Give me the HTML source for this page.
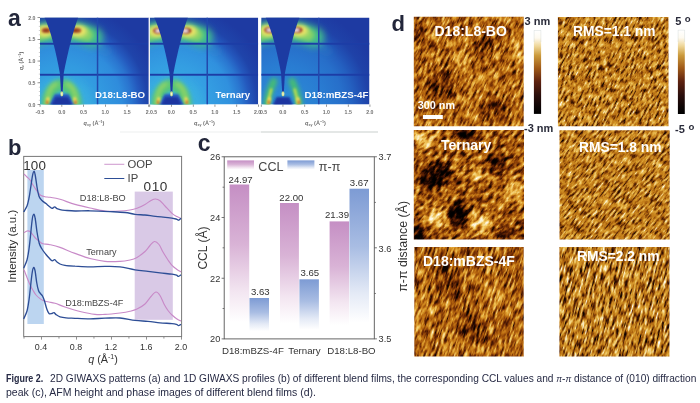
<!DOCTYPE html>
<html><head><meta charset="utf-8"><title>Figure 2</title>
<style>
html,body{margin:0;padding:0;background:#fff;}
body{width:700px;height:403px;overflow:hidden;font-family:"Liberation Sans",sans-serif;}
svg{display:block;position:absolute;left:0;top:0;}
svg text{font-family:"Liberation Sans",sans-serif;}
</style></head><body>
<svg width="700" height="403" viewBox="0 0 700 403">
<defs>


<filter id="b1" x="-100%" y="-100%" width="300%" height="300%"><feGaussianBlur stdDeviation="1"/></filter>
<filter id="b2" x="-100%" y="-100%" width="300%" height="300%"><feGaussianBlur stdDeviation="2"/></filter>
<filter id="b3" x="-100%" y="-100%" width="300%" height="300%"><feGaussianBlur stdDeviation="3.5"/></filter>
<filter id="b05" x="-10%" y="-10%" width="120%" height="120%"><feGaussianBlur stdDeviation="0.45"/></filter>
<radialGradient id="gbase0" gradientUnits="userSpaceOnUse" cx="21.75" cy="87" r="100">
 <stop offset="0" stop-color="#3ab0e0"/>
 <stop offset="0.40" stop-color="#329ae0"/>
 <stop offset="0.60" stop-color="#2f8cdc"/>
 <stop offset="0.70" stop-color="#2a74cf"/>
 <stop offset="0.78" stop-color="#2458bd"/>
 <stop offset="0.86" stop-color="#1f44aa"/>
 <stop offset="1" stop-color="#1e3aa2"/>
</radialGradient>
<radialGradient id="gbase1" gradientUnits="userSpaceOnUse" cx="21.75" cy="87" r="100">
 <stop offset="0" stop-color="#3cb4e2"/>
 <stop offset="0.40" stop-color="#349ee2"/>
 <stop offset="0.60" stop-color="#3090de"/>
 <stop offset="0.70" stop-color="#2a76d0"/>
 <stop offset="0.78" stop-color="#2458bd"/>
 <stop offset="0.86" stop-color="#1f44aa"/>
 <stop offset="1" stop-color="#1e3aa2"/>
</radialGradient>
<radialGradient id="gbase2" gradientUnits="userSpaceOnUse" cx="21.75" cy="87" r="100">
 <stop offset="0" stop-color="#2e90d6"/>
 <stop offset="0.40" stop-color="#297cd2"/>
 <stop offset="0.60" stop-color="#276fca"/>
 <stop offset="0.70" stop-color="#2460c0"/>
 <stop offset="0.78" stop-color="#2150b4"/>
 <stop offset="0.86" stop-color="#1f42a8"/>
 <stop offset="1" stop-color="#1e3aa2"/>
</radialGradient>

<linearGradient id="purp" x1="0" y1="0" x2="0" y2="1">
 <stop offset="0" stop-color="#c58fc4"/>
 <stop offset="0.40" stop-color="#d9b3d6"/>
 <stop offset="0.72" stop-color="#f3e6f1"/>
 <stop offset="0.92" stop-color="#ffffff"/>
</linearGradient>
<linearGradient id="blu" x1="0" y1="0" x2="0" y2="1">
 <stop offset="0" stop-color="#7d9bd4"/>
 <stop offset="0.40" stop-color="#a9bde3"/>
 <stop offset="0.72" stop-color="#e4eaf6"/>
 <stop offset="0.92" stop-color="#ffffff"/>
</linearGradient>
<linearGradient id="cbar" x1="0" y1="0" x2="0" y2="1">
 <stop offset="0" stop-color="#ffffff"/>
 <stop offset="0.09" stop-color="#fefaf0"/>
 <stop offset="0.19" stop-color="#eed596"/>
 <stop offset="0.30" stop-color="#cb9a3c"/>
 <stop offset="0.45" stop-color="#a05a18"/>
 <stop offset="0.61" stop-color="#5e2210"/>
 <stop offset="0.78" stop-color="#2a0e0c"/>
 <stop offset="0.92" stop-color="#0c0404"/>
 <stop offset="1" stop-color="#000000"/>
</linearGradient>

<filter id="afmH1" x="0" y="0" width="100%" height="100%" color-interpolation-filters="sRGB">
 <feTurbulence type="fractalNoise" baseFrequency="0.11 0.40" numOctaves="3" seed="3"/>
 <feColorMatrix type="matrix" values="1 0 0 0 0  1 0 0 0 0  1 0 0 0 0  0 0 0 0 1" result="hi"/>
 <feComposite in="hi" in2="SourceGraphic" operator="arithmetic" k1="0" k2="1.0" k3="0.8" k4="-0.420" result="mix"/>
 <feComponentTransfer in="mix">
  <feFuncR type="table" tableValues="0.000 0.039 0.157 0.361 0.557 0.729 0.847 0.933 0.969 0.988 1.000"/>
  <feFuncG type="table" tableValues="0.000 0.008 0.039 0.125 0.259 0.416 0.580 0.745 0.855 0.941 1.000"/>
  <feFuncB type="table" tableValues="0.000 0.000 0.008 0.016 0.031 0.063 0.149 0.314 0.529 0.784 1.000"/>
  <feFuncA type="linear" slope="0" intercept="1"/>
 </feComponentTransfer>
 <feGaussianBlur stdDeviation="0.45"/>
</filter>
<filter id="afmH2" x="0" y="0" width="100%" height="100%" color-interpolation-filters="sRGB">
 <feTurbulence type="fractalNoise" baseFrequency="0.13 0.27" numOctaves="3" seed="7"/>
 <feColorMatrix type="matrix" values="1 0 0 0 0  1 0 0 0 0  1 0 0 0 0  0 0 0 0 1" result="hi"/>
 <feComposite in="hi" in2="SourceGraphic" operator="arithmetic" k1="0" k2="1.1" k3="1.4" k4="-0.800" result="mix"/>
 <feComponentTransfer in="mix">
  <feFuncR type="table" tableValues="0.000 0.039 0.157 0.361 0.557 0.729 0.847 0.933 0.969 0.988 1.000"/>
  <feFuncG type="table" tableValues="0.000 0.008 0.039 0.125 0.259 0.416 0.580 0.745 0.855 0.941 1.000"/>
  <feFuncB type="table" tableValues="0.000 0.000 0.008 0.016 0.031 0.063 0.149 0.314 0.529 0.784 1.000"/>
  <feFuncA type="linear" slope="0" intercept="1"/>
 </feComponentTransfer>
 <feGaussianBlur stdDeviation="0.45"/>
</filter>
<filter id="afmH3" x="0" y="0" width="100%" height="100%" color-interpolation-filters="sRGB">
 <feTurbulence type="fractalNoise" baseFrequency="0.09 0.42" numOctaves="3" seed="12"/>
 <feColorMatrix type="matrix" values="1 0 0 0 0  1 0 0 0 0  1 0 0 0 0  0 0 0 0 1" result="hi"/>
 <feComposite in="hi" in2="SourceGraphic" operator="arithmetic" k1="0" k2="1.05" k3="0.8" k4="-0.450" result="mix"/>
 <feComponentTransfer in="mix">
  <feFuncR type="table" tableValues="0.000 0.039 0.157 0.361 0.557 0.729 0.847 0.933 0.969 0.988 1.000"/>
  <feFuncG type="table" tableValues="0.000 0.008 0.039 0.125 0.259 0.416 0.580 0.745 0.855 0.941 1.000"/>
  <feFuncB type="table" tableValues="0.000 0.000 0.008 0.016 0.031 0.063 0.149 0.314 0.529 0.784 1.000"/>
  <feFuncA type="linear" slope="0" intercept="1"/>
 </feComponentTransfer>
 <feGaussianBlur stdDeviation="0.45"/>
</filter>
<filter id="afmP1" x="0" y="0" width="100%" height="100%" color-interpolation-filters="sRGB">
 <feTurbulence type="fractalNoise" baseFrequency="0.14 0.50" numOctaves="3" seed="4"/>
 <feColorMatrix type="matrix" values="1 0 0 0 0  1 0 0 0 0  1 0 0 0 0  0 0 0 0 1" result="hi"/>
 <feComposite in="hi" in2="SourceGraphic" operator="arithmetic" k1="0" k2="1.35" k3="0.5" k4="-0.425" result="mix"/>
 <feComponentTransfer in="mix">
  <feFuncR type="table" tableValues="0.000 0.078 0.235 0.424 0.635 0.769 0.835 0.902 0.953 0.988 1.000"/>
  <feFuncG type="table" tableValues="0.000 0.020 0.078 0.188 0.353 0.494 0.592 0.710 0.824 0.941 1.000"/>
  <feFuncB type="table" tableValues="0.000 0.000 0.008 0.024 0.047 0.102 0.165 0.282 0.490 0.784 1.000"/>
  <feFuncA type="linear" slope="0" intercept="1"/>
 </feComponentTransfer>
 <feGaussianBlur stdDeviation="0.45"/>
</filter>
<filter id="afmP2" x="0" y="0" width="100%" height="100%" color-interpolation-filters="sRGB">
 <feTurbulence type="fractalNoise" baseFrequency="0.13 0.50" numOctaves="3" seed="15"/>
 <feColorMatrix type="matrix" values="1 0 0 0 0  1 0 0 0 0  1 0 0 0 0  0 0 0 0 1" result="hi"/>
 <feComposite in="hi" in2="SourceGraphic" operator="arithmetic" k1="0" k2="1.35" k3="0.5" k4="-0.425" result="mix"/>
 <feComponentTransfer in="mix">
  <feFuncR type="table" tableValues="0.000 0.078 0.235 0.424 0.635 0.769 0.835 0.902 0.953 0.988 1.000"/>
  <feFuncG type="table" tableValues="0.000 0.020 0.078 0.188 0.353 0.494 0.592 0.710 0.824 0.941 1.000"/>
  <feFuncB type="table" tableValues="0.000 0.000 0.008 0.024 0.047 0.102 0.165 0.282 0.490 0.784 1.000"/>
  <feFuncA type="linear" slope="0" intercept="1"/>
 </feComponentTransfer>
 <feGaussianBlur stdDeviation="0.45"/>
</filter>
<filter id="afmP3" x="0" y="0" width="100%" height="100%" color-interpolation-filters="sRGB">
 <feTurbulence type="fractalNoise" baseFrequency="0.10 0.46" numOctaves="3" seed="25"/>
 <feColorMatrix type="matrix" values="1 0 0 0 0  1 0 0 0 0  1 0 0 0 0  0 0 0 0 1" result="hi"/>
 <feComposite in="hi" in2="SourceGraphic" operator="arithmetic" k1="0" k2="1.5" k3="0.5" k4="-0.500" result="mix"/>
 <feComponentTransfer in="mix">
  <feFuncR type="table" tableValues="0.000 0.078 0.235 0.424 0.635 0.769 0.835 0.902 0.953 0.988 1.000"/>
  <feFuncG type="table" tableValues="0.000 0.020 0.078 0.188 0.353 0.494 0.592 0.710 0.824 0.941 1.000"/>
  <feFuncB type="table" tableValues="0.000 0.000 0.008 0.024 0.047 0.102 0.165 0.282 0.490 0.784 1.000"/>
  <feFuncA type="linear" slope="0" intercept="1"/>
 </feComponentTransfer>
 <feGaussianBlur stdDeviation="0.45"/>
</filter>
</defs>
<rect x="120" y="131.5" width="141" height="1" fill="#eef0ef"/>
<rect x="261" y="131.5" width="117" height="1" fill="#c9d0cd"/>
<g transform="translate(40,17.5)">
<clipPath id="cg0"><rect x="0" y="0" width="109.3" height="87"/></clipPath>
<g clip-path="url(#cg0)">
<rect x="0" y="0" width="109.3" height="87" fill="url(#gbase0)"/>
<g filter="url(#b3)" fill="none" stroke-linecap="round">
<path d="M-8.3,19.4 A74,74 0 0 1 53.0,19.9" stroke="#44c484" stroke-width="20" opacity="0.97"/>
<path d="M52.4,24.1 A70,70 0 0 1 66.7,33.4" stroke="#30a0c8" stroke-width="8" opacity="0.25"/>
</g>
<g filter="url(#b2)" fill="none" stroke-linecap="round">
<path d="M-6.0,18.4 A74,74 0 0 1 47.1,17.5" stroke="#8ed464" stroke-width="12" opacity="0.95"/>
</g>
<g filter="url(#b2)">
<ellipse cx="4.7" cy="13.4" rx="8" ry="6" fill="#ece468"/>
<ellipse cx="38.1" cy="13.4" rx="9" ry="6" fill="#ece468"/>
</g>
<g filter="url(#b1)">
<ellipse cx="6.2" cy="12.9" rx="4.6" ry="2.7" fill="#a8522a"/>
<ellipse cx="36.300000000000004" cy="12.9" rx="5" ry="2.7" fill="#a8522a"/>
<ellipse cx="6.2" cy="12.9" rx="2.2" ry="1.1" fill="#86301c"/>
<ellipse cx="35.1" cy="12.9" rx="2.6" ry="1.1" fill="#86301c"/>
</g>
<g filter="url(#b3)" fill="none">
<ellipse cx="21.75" cy="89" rx="32" ry="30" fill="#3cb4e0" stroke="none" opacity="0.55"/>
</g>
<g filter="url(#b2)" fill="none">
<ellipse cx="21.75" cy="89" rx="14.5" ry="21.5" stroke="#56c674" stroke-width="11.5" opacity="0.97"/>
</g>
<g filter="url(#b2)" fill="none" stroke-linecap="round">
<path d="M7.2,86 C7.6,72 12,68 16.5,66.5" stroke="#a6d860" stroke-width="3.6" opacity="0.9"/>
<path d="M36.3,86 C35.9,72 31.5,68 27,66.5" stroke="#a6d860" stroke-width="3.6" opacity="0.9"/>
</g>
<g filter="url(#b1)">
<path d="M9.5,89 L15.5,77.5 L28,77.5 L34,89 Z" fill="#2a5cc0" stroke="#2a5cc0" stroke-width="2" stroke-linejoin="round"/>
</g>
<g filter="url(#b1)">
<ellipse cx="7.5" cy="83.3" rx="1.7" ry="3.8" fill="#f2dc58" transform="rotate(14 7.5 83.3)"/>
<ellipse cx="35.2" cy="83.3" rx="1.7" ry="3.8" fill="#f2dc58" transform="rotate(-14 35.2 83.3)"/>
<ellipse cx="7.2" cy="84.8" rx="1" ry="2.3" fill="#cc4a24"/>
<ellipse cx="35.5" cy="84.8" rx="1" ry="2.3" fill="#cc4a24"/>
<path d="M12.5,88 L16,80.5 L27.5,80.5 L31,88 Z" fill="#1f36a0" stroke="#1f36a0" stroke-width="2" stroke-linejoin="round"/>
</g>
<g filter="url(#b05)">
<rect x="0" y="25.3" width="109.3" height="1.9" fill="#1f3ea6"/>
<rect x="0" y="56.3" width="109.3" height="1.9" fill="#1f3ea6"/>
<rect x="56.8" y="0" width="1.5" height="87" fill="#2148ad"/>
<path d="M4.5,0 L38.2,0 C33,14 28,34 23.7,56 L22.7,74 L22.3,79 L21.3,79 L20.9,74 L19.9,56 C16,34 11,14 4.5,0 Z" fill="#1f3aa2"/>
<ellipse cx="21.8" cy="76.3" rx="1.5" ry="2.6" fill="#cfe08c"/>
<ellipse cx="21.8" cy="76.6" rx="0.6" ry="1.4" fill="#f4f4d8"/>
</g>
</g>
<text x="55.1" y="80.9" font-size="9.7" font-weight="bold" fill="#fff" filter="url(#b05)" opacity="0.97">D18:L8-BO</text>
</g>
<g transform="translate(149.7,17.5)">
<clipPath id="cg1"><rect x="0" y="0" width="108.5" height="87"/></clipPath>
<g clip-path="url(#cg1)">
<rect x="0" y="0" width="108.5" height="87" fill="url(#gbase1)"/>
<g filter="url(#b3)" fill="none" stroke-linecap="round">
<path d="M-8.3,19.4 A74,74 0 0 1 53.0,19.9" stroke="#44c484" stroke-width="20" opacity="0.97"/>
<path d="M52.4,24.1 A70,70 0 0 1 66.7,33.4" stroke="#30a0c8" stroke-width="8" opacity="0.25"/>
</g>
<g filter="url(#b2)" fill="none" stroke-linecap="round">
<path d="M-6.0,18.4 A74,74 0 0 1 47.1,17.5" stroke="#8ed464" stroke-width="12" opacity="0.95"/>
</g>
<g filter="url(#b2)">
<ellipse cx="7.1" cy="13.8" rx="8" ry="6" fill="#ece468"/>
<ellipse cx="38.3" cy="13.8" rx="9" ry="6" fill="#ece468"/>
</g>
<g filter="url(#b1)">
<ellipse cx="8.6" cy="13.3" rx="5.2" ry="3.1" fill="#a0442a"/>
<ellipse cx="36.3" cy="13.3" rx="5.6" ry="3.1" fill="#a0442a"/>
<ellipse cx="8.6" cy="13.3" rx="2.8" ry="1.6" fill="#f4e6ee"/>
<ellipse cx="35.3" cy="13.3" rx="3.2" ry="1.6" fill="#f4e6ee"/>
</g>
<g filter="url(#b3)" fill="none">
<ellipse cx="21.75" cy="89" rx="32" ry="30" fill="#3cb4e0" stroke="none" opacity="0.55"/>
</g>
<g filter="url(#b2)" fill="none">
<ellipse cx="21.75" cy="89" rx="14.5" ry="21.5" stroke="#56c674" stroke-width="11.5" opacity="0.97"/>
</g>
<g filter="url(#b2)" fill="none" stroke-linecap="round">
<path d="M7.2,86 C7.6,72 12,68 16.5,66.5" stroke="#a6d860" stroke-width="3.6" opacity="0.9"/>
<path d="M36.3,86 C35.9,72 31.5,68 27,66.5" stroke="#a6d860" stroke-width="3.6" opacity="0.9"/>
</g>
<g filter="url(#b1)">
<path d="M9.5,89 L15.5,77.5 L28,77.5 L34,89 Z" fill="#2a5cc0" stroke="#2a5cc0" stroke-width="2" stroke-linejoin="round"/>
</g>
<g filter="url(#b1)">
<ellipse cx="8.6" cy="83.3" rx="1.7" ry="3.8" fill="#f2dc58" transform="rotate(14 8.6 83.3)"/>
<ellipse cx="36.8" cy="83.3" rx="1.7" ry="3.8" fill="#f2dc58" transform="rotate(-14 36.8 83.3)"/>
<ellipse cx="8.299999999999999" cy="84.8" rx="1" ry="2.3" fill="#cc4a24"/>
<ellipse cx="37.099999999999994" cy="84.8" rx="1" ry="2.3" fill="#cc4a24"/>
<path d="M12.5,88 L16,80.5 L27.5,80.5 L31,88 Z" fill="#1f36a0" stroke="#1f36a0" stroke-width="2" stroke-linejoin="round"/>
</g>
<g filter="url(#b05)">
<rect x="0" y="25.3" width="108.5" height="1.9" fill="#1f3ea6"/>
<rect x="0" y="56.3" width="108.5" height="1.9" fill="#1f3ea6"/>
<rect x="56.8" y="0" width="1.5" height="87" fill="#2148ad"/>
<path d="M4.5,0 L38.2,0 C33,14 28,34 23.7,56 L22.7,74 L22.3,79 L21.3,79 L20.9,74 L19.9,56 C16,34 11,14 4.5,0 Z" fill="#1f3aa2"/>
<ellipse cx="21.8" cy="76.3" rx="1.5" ry="2.6" fill="#cfe08c"/>
<ellipse cx="21.8" cy="76.6" rx="0.6" ry="1.4" fill="#f4f4d8"/>
</g>
</g>
<text x="65.9" y="80.9" font-size="9.6" font-weight="bold" fill="#fff" filter="url(#b05)" opacity="0.97">Ternary</text>
</g>
<g transform="translate(261.2,17.5)">
<clipPath id="cg2"><rect x="0" y="0" width="108.3" height="87"/></clipPath>
<g clip-path="url(#cg2)">
<rect x="0" y="0" width="108.3" height="87" fill="url(#gbase2)"/>
<g filter="url(#b3)" fill="none" stroke-linecap="round">
<path d="M-8.3,19.4 A74,74 0 0 1 53.0,19.9" stroke="#44c484" stroke-width="20" opacity="0.97"/>
<path d="M52.4,24.1 A70,70 0 0 1 66.7,33.4" stroke="#30a0c8" stroke-width="8" opacity="0.25"/>
</g>
<g filter="url(#b2)" fill="none" stroke-linecap="round">
<path d="M-6.0,18.4 A74,74 0 0 1 47.1,17.5" stroke="#8ed464" stroke-width="12" opacity="0.95"/>
</g>
<g filter="url(#b2)">
<ellipse cx="6.699999999999999" cy="13.0" rx="8" ry="6" fill="#ece468"/>
<ellipse cx="37.9" cy="13.0" rx="9" ry="6" fill="#ece468"/>
</g>
<g filter="url(#b1)">
<ellipse cx="8.2" cy="12.5" rx="5.2" ry="3.1" fill="#a0442a"/>
<ellipse cx="35.9" cy="12.5" rx="5.6" ry="3.1" fill="#a0442a"/>
<ellipse cx="8.2" cy="12.5" rx="2.8" ry="1.6" fill="#f4e6ee"/>
<ellipse cx="34.9" cy="12.5" rx="3.2" ry="1.6" fill="#f4e6ee"/>
</g>
<g filter="url(#b2)" fill="none" stroke-linecap="round">
<path d="M12.5,64 Q7,76 5.5,87" stroke="#46c070" stroke-width="7" opacity="0.95"/>
<path d="M31,64 Q36.5,76 38,87" stroke="#46c070" stroke-width="7" opacity="0.95"/>
</g>
<g filter="url(#b1)" fill="none" stroke-linecap="round">
<path d="M10,72 Q7.5,80 7,87" stroke="#c0dc50" stroke-width="2.6" opacity="0.95"/>
<path d="M33.5,72 Q36,80 36.5,87" stroke="#c0dc50" stroke-width="2.6" opacity="0.95"/>
</g>
<g filter="url(#b1)">
<ellipse cx="7.8" cy="83.3" rx="1.7" ry="3.8" fill="#f2dc58" transform="rotate(14 7.8 83.3)"/>
<ellipse cx="37.3" cy="83.3" rx="1.7" ry="3.8" fill="#f2dc58" transform="rotate(-14 37.3 83.3)"/>
<ellipse cx="7.5" cy="84.8" rx="1" ry="2.3" fill="#cc4a24"/>
<ellipse cx="37.599999999999994" cy="84.8" rx="1" ry="2.3" fill="#cc4a24"/>
<path d="M12.5,88 L16,80.5 L27.5,80.5 L31,88 Z" fill="#1f36a0" stroke="#1f36a0" stroke-width="2" stroke-linejoin="round"/>
</g>
<g filter="url(#b05)">
<rect x="0" y="25.3" width="108.3" height="1.9" fill="#1f3ea6"/>
<rect x="0" y="56.3" width="108.3" height="1.9" fill="#1f3ea6"/>
<rect x="56.8" y="0" width="1.5" height="87" fill="#2148ad"/>
<path d="M4.5,0 L38.2,0 C33,14 28,34 23.7,56 L22.7,74 L22.3,79 L21.3,79 L20.9,74 L19.9,56 C16,34 11,14 4.5,0 Z" fill="#1f3aa2"/>
<ellipse cx="21.8" cy="76.3" rx="1.5" ry="2.6" fill="#cfe08c"/>
<ellipse cx="21.8" cy="76.6" rx="0.6" ry="1.4" fill="#f4f4d8"/>
</g>
</g>
<text x="43.3" y="80.9" font-size="9.75" font-weight="bold" fill="#fff" filter="url(#b05)" opacity="0.97">D18:mBZS-4F</text>
</g>
<rect x="148.6" y="17.5" width="1.3" height="90" fill="#f4f4f4"/>
<g fill="#555" font-size="5.2" font-weight="bold" filter="url(#b05)" opacity="0.85">
<text x="35.5" y="19.5" text-anchor="end">2.0</text>
<rect x="37.5" y="17.2" width="2.5" height="0.7"/>
<text x="35.5" y="41.2" text-anchor="end">1.5</text>
<rect x="37.5" y="39.0" width="2.5" height="0.7"/>
<text x="35.5" y="63.0" text-anchor="end">1.0</text>
<rect x="37.5" y="60.7" width="2.5" height="0.7"/>
<text x="35.5" y="84.8" text-anchor="end">0.5</text>
<rect x="37.5" y="82.5" width="2.5" height="0.7"/>
<text x="35.5" y="106.5" text-anchor="end">0.0</text>
<rect x="37.5" y="104.2" width="2.5" height="0.7"/>
<text x="40.0" y="113.5" text-anchor="middle">-0.5</text>
<rect x="39.7" y="104.5" width="0.7" height="2.3"/>
<text x="61.8" y="113.5" text-anchor="middle">0.0</text>
<rect x="61.5" y="104.5" width="0.7" height="2.3"/>
<text x="83.5" y="113.5" text-anchor="middle">0.5</text>
<rect x="83.2" y="104.5" width="0.7" height="2.3"/>
<text x="105.2" y="113.5" text-anchor="middle">1.0</text>
<rect x="105.0" y="104.5" width="0.7" height="2.3"/>
<text x="127.0" y="113.5" text-anchor="middle">1.5</text>
<rect x="126.7" y="104.5" width="0.7" height="2.3"/>
<rect x="148.4" y="104.5" width="0.7" height="2.3"/>
<text x="147.8" y="113.5" text-anchor="middle">2.</text>
<text x="153.5" y="113.5" text-anchor="middle">0.5</text>
<rect x="149.4" y="104.5" width="0.7" height="2.3"/>
<text x="171.4" y="113.5" text-anchor="middle">0.0</text>
<rect x="171.1" y="104.5" width="0.7" height="2.3"/>
<text x="193.2" y="113.5" text-anchor="middle">0.5</text>
<rect x="192.9" y="104.5" width="0.7" height="2.3"/>
<text x="214.9" y="113.5" text-anchor="middle">1.0</text>
<rect x="214.6" y="104.5" width="0.7" height="2.3"/>
<text x="236.7" y="113.5" text-anchor="middle">1.5</text>
<rect x="236.4" y="104.5" width="0.7" height="2.3"/>
<rect x="258.1" y="104.5" width="0.7" height="2.3"/>
<text x="257.5" y="113.5" text-anchor="middle">2.0</text>
<text x="263.5" y="113.5" text-anchor="middle">0.5</text>
<rect x="260.9" y="104.5" width="0.7" height="2.3"/>
<text x="282.9" y="113.5" text-anchor="middle">0.0</text>
<rect x="282.6" y="104.5" width="0.7" height="2.3"/>
<text x="304.7" y="113.5" text-anchor="middle">0.5</text>
<rect x="304.4" y="104.5" width="0.7" height="2.3"/>
<text x="326.4" y="113.5" text-anchor="middle">1.0</text>
<rect x="326.1" y="104.5" width="0.7" height="2.3"/>
<text x="348.2" y="113.5" text-anchor="middle">1.5</text>
<rect x="347.9" y="104.5" width="0.7" height="2.3"/>
<text x="369.9" y="113.5" text-anchor="middle">2.0</text>
<rect x="369.6" y="104.5" width="0.7" height="2.3"/>
<text x="94" y="124.5" text-anchor="middle" font-size="5.6"><tspan font-style="italic">q</tspan><tspan font-size="3.6" dy="1">xy</tspan><tspan dy="-1"> (Å</tspan><tspan font-size="3.6" dy="-2">−1</tspan><tspan dy="2">)</tspan></text>
<text x="204.5" y="124.5" text-anchor="middle" font-size="5.6"><tspan font-style="italic">q</tspan><tspan font-size="3.6" dy="1">xy</tspan><tspan dy="-1"> (Å</tspan><tspan font-size="3.6" dy="-2">−1</tspan><tspan dy="2">)</tspan></text>
<text x="315.5" y="124.5" text-anchor="middle" font-size="5.6"><tspan font-style="italic">q</tspan><tspan font-size="3.6" dy="1">xy</tspan><tspan dy="-1"> (Å</tspan><tspan font-size="3.6" dy="-2">−1</tspan><tspan dy="2">)</tspan></text>
<text transform="translate(22.5,61) rotate(-90)" text-anchor="middle" font-size="5.6"><tspan font-style="italic">q</tspan><tspan font-size="3.6" dy="1">z</tspan><tspan dy="-1"> (Å</tspan><tspan font-size="3.6" dy="-2">−1</tspan><tspan dy="2">)</tspan></text>
</g>
<g fill="#777" opacity="0.7">
<rect x="38.8" y="17.25" width="1.2" height="0.5"/>
<rect x="38.8" y="21.60" width="1.2" height="0.5"/>
<rect x="38.8" y="25.95" width="1.2" height="0.5"/>
<rect x="38.8" y="30.30" width="1.2" height="0.5"/>
<rect x="38.8" y="34.65" width="1.2" height="0.5"/>
<rect x="38.8" y="39.00" width="1.2" height="0.5"/>
<rect x="38.8" y="43.35" width="1.2" height="0.5"/>
<rect x="38.8" y="47.70" width="1.2" height="0.5"/>
<rect x="38.8" y="52.05" width="1.2" height="0.5"/>
<rect x="38.8" y="56.40" width="1.2" height="0.5"/>
<rect x="38.8" y="60.75" width="1.2" height="0.5"/>
<rect x="38.8" y="65.10" width="1.2" height="0.5"/>
<rect x="38.8" y="69.45" width="1.2" height="0.5"/>
<rect x="38.8" y="73.80" width="1.2" height="0.5"/>
<rect x="38.8" y="78.15" width="1.2" height="0.5"/>
<rect x="38.8" y="82.50" width="1.2" height="0.5"/>
<rect x="38.8" y="86.85" width="1.2" height="0.5"/>
<rect x="38.8" y="91.20" width="1.2" height="0.5"/>
<rect x="38.8" y="95.55" width="1.2" height="0.5"/>
<rect x="38.8" y="99.90" width="1.2" height="0.5"/>
<rect x="38.8" y="104.25" width="1.2" height="0.5"/>
</g>
<g font-weight="bold" fill="#24283a" filter="url(#b05)" font-size="23">
<text x="8" y="25.6">a</text>
<text x="7.9" y="155.2" font-size="22">b</text>
<text x="197.8" y="150.6">c</text>
<text x="391.6" y="30.8" font-size="22">d</text>
</g>
<g>
<rect x="27.4" y="170" width="16.4" height="154" fill="#bcd5f0"/>
<rect x="134.7" y="191.6" width="38.1" height="128.2" fill="#d9c9e6"/>
<rect x="23.7" y="156.4" width="157.9" height="180.2" fill="none" stroke="#777" stroke-width="1"/>
<rect x="23.60" y="337" width="0.8" height="1.6" fill="#777"/>
<rect x="41.09" y="337" width="0.8" height="2.6" fill="#777"/>
<rect x="58.58" y="337" width="0.8" height="1.6" fill="#777"/>
<rect x="76.07" y="337" width="0.8" height="2.6" fill="#777"/>
<rect x="93.56" y="337" width="0.8" height="1.6" fill="#777"/>
<rect x="111.05" y="337" width="0.8" height="2.6" fill="#777"/>
<rect x="128.54" y="337" width="0.8" height="1.6" fill="#777"/>
<rect x="146.03" y="337" width="0.8" height="2.6" fill="#777"/>
<rect x="163.52" y="337" width="0.8" height="1.6" fill="#777"/>
<rect x="181.01" y="337" width="0.8" height="2.6" fill="#777"/>
<g fill="#333" font-size="8.9" text-anchor="middle" filter="url(#b05)">
<text x="41" y="349.6">0.4</text>
<text x="76" y="349.6">0.8</text>
<text x="111" y="349.6">1.2</text>
<text x="146.2" y="349.6">1.6</text>
<text x="181" y="349.6">2.0</text>
</g>
<path d="M24.0,174.0 C24.5,174.5 26.0,176.0 27.0,177.0 C28.0,178.0 29.0,178.7 30.0,180.0 C31.0,181.3 32.0,183.4 33.0,185.0 C34.0,186.6 35.0,188.2 36.0,189.6 C37.0,191.0 38.2,192.5 39.0,193.5 C39.8,194.5 40.0,195.0 41.0,195.5 C42.0,196.0 43.5,196.4 45.0,196.7 C46.5,197.0 47.5,196.9 50.0,197.3 C52.5,197.7 55.8,198.1 60.0,199.3 C64.2,200.5 70.0,203.0 75.0,204.4 C80.0,205.8 85.0,206.9 90.0,208.0 C95.0,209.1 100.0,210.5 105.0,211.0 C110.0,211.5 115.8,211.2 120.0,211.0 C124.2,210.8 127.2,210.4 130.0,210.0 C132.8,209.6 134.5,209.2 137.0,208.3 C139.5,207.4 142.7,205.7 145.0,204.4 C147.3,203.1 149.2,201.4 151.0,200.5 C152.8,199.6 154.0,198.9 155.5,199.0 C157.0,199.1 158.4,199.6 160.0,200.8 C161.6,202.0 163.0,203.9 165.0,206.0 C167.0,208.1 170.0,211.6 172.0,213.4 C174.0,215.2 175.5,215.8 177.0,216.6 C178.5,217.4 180.3,218.1 181.0,218.4" fill="none" stroke="#c88ac8" stroke-width="1.15" filter="url(#b05)"/>
<path d="M24.0,232.7 C24.5,232.4 26.0,231.2 27.0,231.0 C28.0,230.8 29.0,230.8 30.0,231.5 C31.0,232.2 32.0,233.8 33.0,235.0 C34.0,236.2 34.8,237.5 36.0,238.7 C37.2,239.9 38.8,241.2 40.0,242.0 C41.2,242.8 41.3,243.4 43.0,243.8 C44.7,244.2 47.2,244.1 50.0,244.7 C52.8,245.3 55.8,245.9 60.0,247.4 C64.2,248.9 70.0,251.6 75.0,253.4 C80.0,255.2 85.0,257.2 90.0,258.5 C95.0,259.8 100.0,260.9 105.0,261.4 C110.0,261.9 115.8,261.6 120.0,261.4 C124.2,261.2 127.2,260.6 130.0,260.0 C132.8,259.4 134.5,258.9 137.0,257.5 C139.5,256.1 142.8,253.5 145.0,251.5 C147.2,249.5 148.4,247.2 150.0,245.5 C151.6,243.8 153.0,241.7 154.5,241.5 C156.0,241.3 157.6,242.8 159.0,244.5 C160.4,246.2 161.5,249.4 163.0,252.0 C164.5,254.6 166.5,257.8 168.0,260.0 C169.5,262.2 170.5,263.7 172.0,265.3 C173.5,266.9 175.5,268.4 177.0,269.5 C178.5,270.6 180.3,271.5 181.0,271.9" fill="none" stroke="#c88ac8" stroke-width="1.15" filter="url(#b05)"/>
<path d="M24.0,269.8 C24.5,271.1 26.0,275.0 27.0,277.5 C28.0,280.0 29.0,282.6 30.0,284.7 C31.0,286.8 32.0,288.6 33.0,290.3 C34.0,292.0 34.8,293.6 36.0,295.0 C37.2,296.4 38.8,297.7 40.0,298.6 C41.2,299.5 41.5,299.9 43.0,300.5 C44.5,301.1 47.0,301.6 49.0,302.0 C51.0,302.4 52.3,302.4 55.0,303.2 C57.7,304.0 60.8,305.6 65.0,307.0 C69.2,308.4 75.0,310.3 80.0,311.5 C85.0,312.7 90.8,313.9 95.0,314.4 C99.2,314.9 100.8,314.6 105.0,314.4 C109.2,314.2 115.8,313.5 120.0,313.0 C124.2,312.5 127.2,312.0 130.0,311.3 C132.8,310.6 134.5,310.2 137.0,309.0 C139.5,307.8 142.7,306.1 145.0,304.0 C147.3,301.9 149.2,298.5 151.0,296.5 C152.8,294.5 154.5,292.2 156.0,292.0 C157.5,291.8 158.7,293.5 160.0,295.5 C161.3,297.5 162.7,301.5 164.0,304.0 C165.3,306.5 166.7,308.7 168.0,310.5 C169.3,312.3 170.5,313.6 172.0,315.0 C173.5,316.4 175.5,318.0 177.0,319.0 C178.5,320.0 180.3,320.7 181.0,321.0" fill="none" stroke="#c88ac8" stroke-width="1.15" filter="url(#b05)"/>
<path d="M23.7,212.0 C24.2,211.0 26.1,208.3 27.0,206.0 C27.9,203.7 28.4,200.8 29.0,198.0 C29.6,195.2 29.8,193.2 30.4,189.5 C31.0,185.8 31.9,178.6 32.5,175.6 C33.1,172.6 33.4,171.4 33.9,171.3 C34.4,171.2 34.7,172.4 35.2,175.0 C35.7,177.6 36.4,183.4 37.0,187.0 C37.6,190.6 38.3,194.2 39.1,196.5 C39.9,198.8 40.9,199.3 42.0,200.5 C43.1,201.7 44.7,202.5 46.0,203.6 C47.3,204.7 49.0,206.2 50.0,207.0 C51.0,207.8 51.3,208.3 52.1,208.3 C52.9,208.3 53.9,206.9 54.7,206.9 C55.5,206.9 56.1,208.2 57.0,208.6 C57.9,209.0 58.7,209.3 60.0,209.6 C61.3,209.9 62.5,210.1 65.0,210.3 C67.5,210.5 70.8,210.9 75.0,211.0 C79.2,211.1 84.2,210.7 90.0,210.8 C95.8,210.9 104.2,211.3 110.0,211.6 C115.8,211.9 120.8,212.1 125.0,212.5 C129.2,212.9 131.7,213.9 135.0,214.3 C138.3,214.7 141.6,214.7 145.0,215.0 C148.4,215.3 151.7,216.0 155.5,216.4 C159.3,216.8 164.6,217.2 168.0,217.6 C171.4,218.0 174.2,218.6 176.0,219.0 C177.8,219.4 177.7,220.3 178.5,220.2 C179.3,220.1 180.6,218.5 181.0,218.2" fill="none" stroke="#2d4e96" stroke-width="1.35" filter="url(#b05)"/>
<path d="M23.7,268.3 C24.2,266.9 26.1,263.2 27.0,260.0 C27.9,256.8 28.4,252.8 29.0,249.0 C29.6,245.2 29.8,242.0 30.4,237.0 C30.9,232.0 31.7,222.8 32.3,219.0 C32.8,215.2 33.2,214.4 33.7,214.3 C34.2,214.2 34.7,215.6 35.2,218.5 C35.8,221.4 36.3,227.8 37.0,232.0 C37.7,236.2 38.5,240.7 39.3,243.5 C40.1,246.3 40.9,247.2 42.0,249.0 C43.1,250.8 44.7,252.8 46.0,254.5 C47.3,256.2 49.0,257.9 50.0,259.0 C51.0,260.1 51.5,260.7 52.3,260.8 C53.1,260.9 53.9,259.4 54.7,259.6 C55.5,259.8 56.1,261.3 57.0,262.0 C57.9,262.7 58.7,263.4 60.0,264.0 C61.3,264.6 62.5,264.9 65.0,265.3 C67.5,265.7 70.8,265.9 75.0,266.2 C79.2,266.4 85.0,266.8 90.0,266.8 C95.0,266.8 100.0,266.4 105.0,266.4 C110.0,266.4 115.0,266.2 120.0,266.8 C125.0,267.4 130.3,269.1 135.0,269.8 C139.7,270.6 143.8,270.8 148.0,271.3 C152.2,271.8 156.0,272.3 160.0,272.8 C164.0,273.3 169.2,273.8 172.0,274.2 C174.8,274.6 175.4,274.8 176.5,275.2 C177.6,275.6 177.8,276.5 178.5,276.4 C179.2,276.3 180.6,275.1 181.0,274.8" fill="none" stroke="#2d4e96" stroke-width="1.35" filter="url(#b05)"/>
<path d="M23.7,318.9 C24.2,317.6 26.1,314.1 27.0,311.0 C27.9,307.9 28.4,303.8 29.0,300.0 C29.6,296.2 29.8,292.7 30.4,288.0 C30.9,283.3 31.7,275.4 32.3,272.0 C32.8,268.6 33.2,267.5 33.7,267.4 C34.2,267.3 34.7,268.9 35.2,271.5 C35.7,274.1 36.2,279.8 36.8,283.0 C37.3,286.2 37.9,288.7 38.5,290.5 C39.1,292.3 39.8,292.7 40.5,293.6 C41.2,294.5 41.8,294.8 42.5,296.0 C43.2,297.2 43.8,298.8 44.5,301.0 C45.2,303.2 46.0,306.9 46.8,309.0 C47.5,311.1 48.2,312.6 49.0,313.4 C49.8,314.2 50.7,313.7 51.5,313.6 C52.3,313.5 53.2,312.4 54.0,312.6 C54.8,312.8 55.0,313.9 56.0,314.6 C57.0,315.3 58.3,316.3 60.0,316.8 C61.7,317.3 63.5,317.6 66.0,317.8 C68.5,318.1 71.0,318.1 75.0,318.3 C79.0,318.5 85.0,318.9 90.0,318.9 C95.0,318.9 100.0,318.3 105.0,318.2 C110.0,318.1 115.0,317.6 120.0,318.0 C125.0,318.4 130.3,319.8 135.0,320.4 C139.7,321.0 143.8,321.0 148.0,321.4 C152.2,321.8 156.0,322.4 160.0,322.8 C164.0,323.2 169.2,323.3 172.0,323.6 C174.8,323.9 175.4,324.1 176.5,324.4 C177.6,324.7 177.8,325.6 178.5,325.6 C179.2,325.6 180.6,324.5 181.0,324.3" fill="none" stroke="#2d4e96" stroke-width="1.35" filter="url(#b05)"/>
<rect x="104.3" y="163.8" width="20" height="0.9" fill="#c88ac8"/>
<rect x="104.3" y="178" width="20" height="1" fill="#2d4e96"/>
<g fill="#444" filter="url(#b05)">
<text x="127.5" y="168.2" font-size="11.3">OOP</text>
<text x="127.5" y="181.6" font-size="11.3">IP</text>
<text x="23.2" y="170.4" font-size="13.4" letter-spacing="0.2" fill="#333">100</text>
<text x="143.6" y="191.2" font-size="13.6" letter-spacing="0.5" fill="#333">010</text>
<text x="79.8" y="200.7" font-size="9.2">D18:L8-BO</text>
<text x="86.2" y="254.9" font-size="9.1">Ternary</text>
<text x="65.2" y="306" font-size="9.1">D18:mBZS-4F</text>
<text transform="translate(15.8,246.2) rotate(-90)" text-anchor="middle" font-size="11.5" fill="#333">Intensity (a.u.)</text>
<text x="103" y="363.4" text-anchor="middle" font-size="10.8" fill="#333"><tspan font-style="italic">q</tspan> (Å<tspan font-size="7" dy="-4">-1</tspan><tspan dy="4">)</tspan></text>
</g>
</g>
<g>
<rect x="229.6" y="184.5" width="19.6" height="149.5" fill="url(#purp)"/>
<rect x="249.5" y="298" width="19.5" height="36.0" fill="url(#blu)"/>
<rect x="280" y="203" width="18.9" height="131.0" fill="url(#purp)"/>
<rect x="299.4" y="279.3" width="19.5" height="54.7" fill="url(#blu)"/>
<rect x="329.6" y="221.4" width="19.5" height="112.6" fill="url(#purp)"/>
<rect x="349.5" y="188.7" width="19.5" height="145.3" fill="url(#blu)"/>
<rect x="227.2" y="160.4" width="26.8" height="10" fill="url(#purp)"/>
<rect x="287.4" y="160.4" width="27" height="10" fill="url(#blu)"/>
<rect x="224.2" y="156.8" width="150.1" height="182.1" fill="none" stroke="#555" stroke-width="0.9"/>
<rect x="221.6" y="156.40" width="2.6" height="0.8" fill="#555"/>
<rect x="222.6" y="186.75" width="1.6" height="0.8" fill="#555"/>
<rect x="221.6" y="217.10" width="2.6" height="0.8" fill="#555"/>
<rect x="222.6" y="247.45" width="1.6" height="0.8" fill="#555"/>
<rect x="221.6" y="277.80" width="2.6" height="0.8" fill="#555"/>
<rect x="222.6" y="308.15" width="1.6" height="0.8" fill="#555"/>
<rect x="221.6" y="338.50" width="2.6" height="0.8" fill="#555"/>
<rect x="374.3" y="156.40" width="2.6" height="0.8" fill="#555"/>
<rect x="374.3" y="201.92" width="1.6" height="0.8" fill="#555"/>
<rect x="374.3" y="247.44" width="2.6" height="0.8" fill="#555"/>
<rect x="374.3" y="292.96" width="1.6" height="0.8" fill="#555"/>
<rect x="374.3" y="338.48" width="2.6" height="0.8" fill="#555"/>
<g fill="#333" font-size="9.2" filter="url(#b05)">
<text x="220.3" y="160.3" text-anchor="end">26</text>
<text x="220.3" y="221.1" text-anchor="end">24</text>
<text x="220.3" y="282.0" text-anchor="end">22</text>
<text x="220.3" y="342.3" text-anchor="end">20</text>
<text x="378.6" y="160.3">3.7</text>
<text x="378.6" y="251.5">3.6</text>
<text x="378.6" y="342.3">3.5</text>
<text x="228.6" y="183" font-size="9.6">24.97</text>
<text x="279.3" y="200.9" font-size="9.6">22.00</text>
<text x="325" y="218.4" font-size="9.6">21.39</text>
<text x="349.8" y="186" font-size="9.6">3.67</text>
<text x="251" y="294.5" font-size="9.6">3.63</text>
<text x="300.4" y="275.7" font-size="9.6">3.65</text>
<text x="258.3" y="171" font-size="12.6" fill="#444">CCL</text>
<text x="318.8" y="171" font-size="12.6" fill="#444">π-π</text>
<text x="221.9" y="353.8" font-size="9.7">D18:mBZS-4F</text>
<text x="288.3" y="353.8" font-size="9.7">Ternary</text>
<text x="327.2" y="353.8" font-size="9.7">D18:L8-BO</text>
<text transform="translate(207.4,248) rotate(-90)" text-anchor="middle" font-size="12.1">CCL (Å)</text>
<text transform="translate(407,246.3) rotate(-90)" text-anchor="middle" font-size="12.4">π-π distance (Å)</text>
</g>
</g>
<clipPath id="ch1"><rect x="413.8" y="16.7" width="109.9" height="109.6"/></clipPath>
<g clip-path="url(#ch1)"><g transform="rotate(-65 468.8 71.5)" filter="url(#afmH1)"><g transform="rotate(65 468.8 71.5)">
<rect x="373.8" y="-23.3" width="189.9" height="189.6" fill="#808080"/>
<g filter="url(#b3)">
<ellipse cx="481.9" cy="46.3" rx="16" ry="9" fill="#000" opacity="0.45" transform="rotate(-50 481.9 46.3)"/>
<ellipse cx="441.3" cy="84.7" rx="12" ry="18" fill="#000" opacity="0.4" transform="rotate(20 441.3 84.7)"/>
<ellipse cx="490.7" cy="109.9" rx="18" ry="9" fill="#000" opacity="0.4" transform="rotate(-20 490.7 109.9)"/>
<ellipse cx="419.3" cy="33.1" rx="6" ry="12" fill="#000" opacity="0.3" transform="rotate(0 419.3 33.1)"/>
<ellipse cx="463.3" cy="58.3" rx="12" ry="8" fill="#fff" opacity="0.35" transform="rotate(-40 463.3 58.3)"/>
<ellipse cx="518.2" cy="51.8" rx="7" ry="14" fill="#fff" opacity="0.4" transform="rotate(0 518.2 51.8)"/>
<ellipse cx="481.9" cy="82.5" rx="12" ry="7" fill="#fff" opacity="0.25" transform="rotate(-30 481.9 82.5)"/>
<ellipse cx="468.8" cy="117.5" rx="9" ry="6" fill="#fff" opacity="0.25" transform="rotate(0 468.8 117.5)"/>
</g>
</g></g></g>
<clipPath id="ch2"><rect x="413.8" y="130" width="110.2" height="109.4"/></clipPath>
<g clip-path="url(#ch2)"><g transform="rotate(-50 468.9 184.7)" filter="url(#afmH2)"><g transform="rotate(50 468.9 184.7)">
<rect x="373.8" y="90" width="190.2" height="189.4" fill="#808080"/>
<g filter="url(#b3)">
<ellipse cx="435.8" cy="175.9" rx="16" ry="11" fill="#000" opacity="0.5" transform="rotate(-30 435.8 175.9)"/>
<ellipse cx="457.9" cy="214.2" rx="12" ry="12" fill="#000" opacity="0.55" transform="rotate(0 457.9 214.2)"/>
<ellipse cx="419.3" cy="233.9" rx="9" ry="9" fill="#000" opacity="0.5" transform="rotate(0 419.3 233.9)"/>
<ellipse cx="465.6" cy="133.3" rx="12" ry="6" fill="#000" opacity="0.5" transform="rotate(0 465.6 133.3)"/>
<ellipse cx="496.5" cy="162.8" rx="14" ry="8" fill="#000" opacity="0.3" transform="rotate(-30 496.5 162.8)"/>
<ellipse cx="507.5" cy="233.9" rx="12" ry="7" fill="#000" opacity="0.3" transform="rotate(0 507.5 233.9)"/>
<ellipse cx="424.8" cy="140.9" rx="10" ry="8" fill="#fff" opacity="0.4" transform="rotate(0 424.8 140.9)"/>
<ellipse cx="477.7" cy="175.9" rx="5" ry="5" fill="#fff" opacity="0.6" transform="rotate(0 477.7 175.9)"/>
<ellipse cx="435.8" cy="217.5" rx="10" ry="9" fill="#fff" opacity="0.45" transform="rotate(0 435.8 217.5)"/>
<ellipse cx="482.1" cy="221.9" rx="12" ry="9" fill="#fff" opacity="0.4" transform="rotate(0 482.1 221.9)"/>
<ellipse cx="513.0" cy="190.2" rx="9" ry="11" fill="#fff" opacity="0.35" transform="rotate(0 513.0 190.2)"/>
</g>
</g></g></g>
<clipPath id="ch3"><rect x="414.3" y="247" width="109.4" height="109.6"/></clipPath>
<g clip-path="url(#ch3)"><g transform="rotate(-72 469.0 301.8)" filter="url(#afmH3)"><g transform="rotate(72 469.0 301.8)">
<rect x="374.3" y="207" width="189.4" height="189.6" fill="#808080"/>
<g filter="url(#b3)">
<ellipse cx="447.1" cy="279.9" rx="9" ry="22" fill="#000" opacity="0.4" transform="rotate(-25 447.1 279.9)"/>
<ellipse cx="471.2" cy="325.9" rx="9" ry="20" fill="#000" opacity="0.4" transform="rotate(-25 471.2 325.9)"/>
<ellipse cx="507.3" cy="258.0" rx="10" ry="8" fill="#000" opacity="0.25" transform="rotate(0 507.3 258.0)"/>
<ellipse cx="419.8" cy="312.8" rx="6" ry="16" fill="#fff" opacity="0.35" transform="rotate(0 419.8 312.8)"/>
<ellipse cx="493.1" cy="293.0" rx="8" ry="14" fill="#fff" opacity="0.3" transform="rotate(-20 493.1 293.0)"/>
<ellipse cx="447.1" cy="340.2" rx="8" ry="10" fill="#fff" opacity="0.25" transform="rotate(0 447.1 340.2)"/>
</g>
</g></g></g>
<clipPath id="cp1"><rect x="557.9" y="16.9" width="110.6" height="109.4"/></clipPath>
<g clip-path="url(#cp1)"><g transform="rotate(-62 613.2 71.6)" filter="url(#afmP1)"><g transform="rotate(62 613.2 71.6)">
<rect x="517.9" y="-23.1" width="190.6" height="189.4" fill="#808080"/>
</g></g></g>
<clipPath id="cp2"><rect x="559.5" y="130.3" width="110.2" height="109.3"/></clipPath>
<g clip-path="url(#cp2)"><g transform="rotate(-52 614.6 185.0)" filter="url(#afmP2)"><g transform="rotate(52 614.6 185.0)">
<rect x="519.5" y="90.30000000000001" width="190.2" height="189.3" fill="#808080"/>
</g></g></g>
<clipPath id="cp3"><rect x="559.4" y="247" width="110.1" height="109.5"/></clipPath>
<g clip-path="url(#cp3)"><g transform="rotate(-76 614.4 301.8)" filter="url(#afmP3)"><g transform="rotate(76 614.4 301.8)">
<rect x="519.4" y="207" width="190.1" height="189.5" fill="#808080"/>
</g></g></g>
<rect x="533.9" y="30.5" width="7.2" height="83.4" fill="url(#cbar)"/>
<path d="M534.1,30.4 V42 M540.9,30.4 V42 M534,30.5 H541" fill="none" stroke="#c8d0d0" stroke-width="0.6" opacity="0.6"/>
<rect x="677.9" y="30.2" width="6.9" height="83.8" fill="url(#cbar)"/>
<path d="M678.1,30.1 V42 M684.6,30.1 V42 M678,30.2 H684.7" fill="none" stroke="#c8d0d0" stroke-width="0.6" opacity="0.6"/>
<g font-weight="bold" fill="#2a2c3a" font-size="11" filter="url(#b05)">
<text x="524.5" y="25.4">3 nm</text>
<text x="524" y="132.2">-3 nm</text>
<text x="675.3" y="25.1">5</text><text x="684.7" y="21.7" font-size="9.6">o</text>
<text x="675.1" y="133.2">-5</text><text x="688.4" y="130" font-size="9.6">o</text>
</g>
<g font-weight="bold" fill="#fff" font-size="14" filter="url(#b05)">
<text x="434.5" y="35.7">D18:L8-BO</text>
<text x="441" y="149.8">Ternary</text>
<text x="423" y="266">D18:mBZS-4F</text>
<text x="573" y="35.7" font-size="13.8">RMS=1.1 nm</text>
<text x="579" y="152" font-size="13.8">RMS=1.8 nm</text>
<text x="577" y="261.3" font-size="13.8">RMS=2.2 nm</text>
<text x="417.8" y="109" font-size="10.8">300 nm</text>
</g>
<rect x="423" y="115" width="19.8" height="4" fill="#fff"/>
<g fill="#262a44" font-size="10.35" filter="url(#b05)">
<text x="6" y="382" textLength="37.3" lengthAdjust="spacingAndGlyphs" font-weight="bold">Figure 2.</text>
<text x="50" y="382" textLength="646.3" lengthAdjust="spacingAndGlyphs">2D GIWAXS patterns (a) and 1D GIWAXS profiles (b) of different blend films, the corresponding CCL values and <tspan font-style="italic" font-size="8.8">π</tspan>-<tspan font-style="italic" font-size="8.8">π</tspan> distance of (010) diffraction</text>
<text x="6" y="396" textLength="310" lengthAdjust="spacingAndGlyphs">peak (c), AFM height and phase images of different blend films (d).</text>
</g>
</svg></body></html>
